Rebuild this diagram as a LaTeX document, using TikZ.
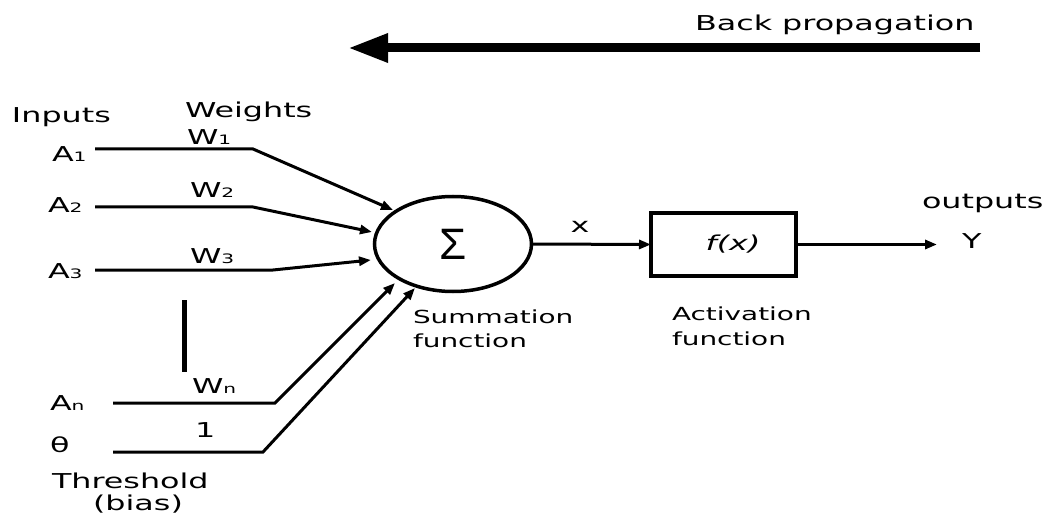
\documentclass[tikz,border=0pt]{standalone}
\usepackage{fontspec}
\setmainfont[FakeStretch=1.55]{DejaVu Sans}
\newfontfamily\sigfont{Liberation Sans}
\usetikzlibrary{arrows.meta,shapes.geometric}
\newcommand\subsc[1]{{\fontsize{13}{13}\selectfont #1}}
\begin{document}
\begin{tikzpicture}[x=1pt,y=-1pt,
  every node/.style={inner sep=0pt,outer sep=0pt},
  txt/.style={font=\fontsize{20.5}{24}\selectfont,anchor=base west},
  smalltxt/.style={font=\fontsize{18}{22}\selectfont,anchor=base west},
  wire/.style={line width=3pt,-{Triangle[length=12pt,width=9pt]}},
  bigarrow/.style={line width=9pt,-{Triangle[length=40pt,width=27pt]}}]
\useasboundingbox (0,0) rectangle (1045,516);

% back propagation
\node[txt] (bptxt) at (695,31) {Back propagation};
\coordinate (bpR) at (980,48);
\coordinate (bpL) at (348,48);
\draw[bigarrow] (bpR) -- (bpL);

% headings
\node[txt] (inputs) at (12,123) {Inputs};
\node[txt] (weights) at (185,118) {Weights};

% inputs and weights
\node[txt] (a1) at (52,162) {A\subsc{1}};
\node[txt] (w1) at (187,145) {W\subsc{1}};
\node[txt] (a2) at (48,212) {A\subsc{2}};
\node[txt] (w2) at (190,197) {W\subsc{2}};
\node[txt] (a3) at (48,278) {A\subsc{3}};
\node[txt] (w3) at (190,263) {W\subsc{3}};
\node[txt] (wn) at (192,393) {W\subsc{n}};
\node[txt] (an) at (50,410) {A\subsc{n}};
\node[txt] (one) at (195,437) {1};
\node[txt] (theta) at (50,452) {θ};
\node[txt] (thr) at (52,488) {Threshold};
\node[txt,anchor=base] (bias) at (138,510) {(bias)};

% ellipsis bar
\coordinate (bartop) at (184,300);
\coordinate (barbot) at (184,372);
\draw[line width=5pt] (bartop) -- (barbot);

% summation
\node[draw,ellipse,line width=3.5pt,minimum width=157pt,minimum height=95pt] (sum) at (453,244) {\fontsize{44}{44}\sigfont Σ};
\node[smalltxt] (sumlbl1) at (413,323) {Summation};
\node[smalltxt] (sumlbl2) at (413,347) {function};

% wires
\coordinate (s1) at (95,149);  \coordinate (b1) at (253,149); \coordinate (t1) at (393,210);
\coordinate (s2) at (95,207);  \coordinate (b2) at (253,207); \coordinate (t2) at (372,232);
\coordinate (s3) at (95,270);  \coordinate (b3) at (273,270); \coordinate (t3) at (371,260);
\coordinate (sn) at (113,403); \coordinate (bn) at (275,403); \coordinate (tn) at (395,283);
\coordinate (s0) at (113,452); \coordinate (b0) at (263,452); \coordinate (t0) at (415,288);
\draw[wire] (s1) -- (b1) -- (t1);
\draw[wire] (s2) -- (b2) -- (t2);
\draw[wire] (s3) -- (b3) -- (t3);
\draw[wire] (sn) -- (bn) -- (tn);
\draw[wire] (s0) -- (b0) -- (t0);

% activation
\node[draw,line width=3.5pt,minimum width=145pt,minimum height=63pt] (act) at (723.5,244.5) {};
\node[font=\fontsize{20.5}{24}\selectfont\itshape] (fx) at (733,244) {f(x)};
\node[smalltxt] (actlbl1) at (672,320) {Activation};
\node[smalltxt] (actlbl2) at (672,345) {function};

\node[txt,anchor=base] (xl) at (580,233) {x};
\draw[wire] (sum.east) -- (act.west);

% output
\node[txt] (outs) at (922,208) {outputs};
\node[txt] (yout) at (962,248) {Y};
\coordinate (yarr) at (937,244.5);
\draw[wire] (act.east) -- (yarr);
\end{tikzpicture}
\end{document}
